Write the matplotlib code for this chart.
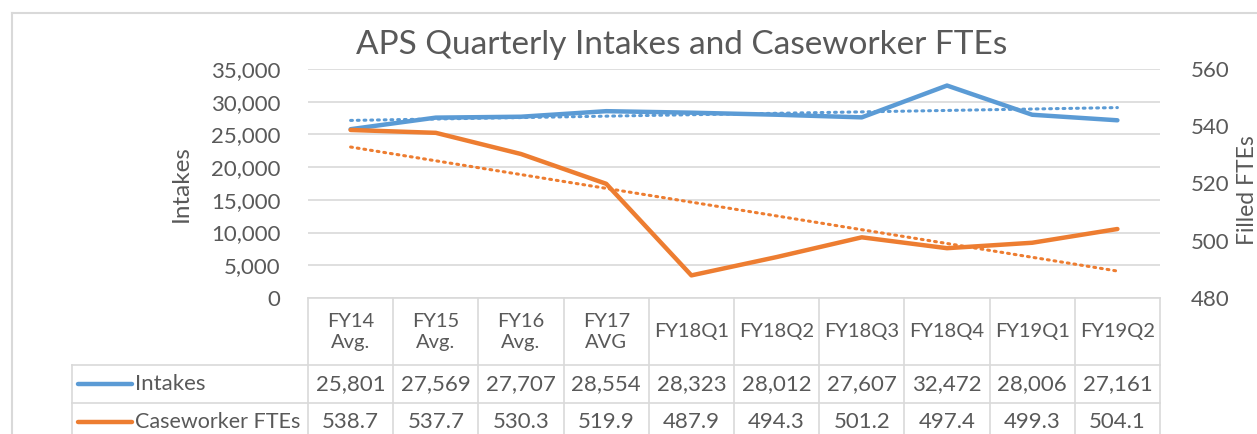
import numpy as np
import matplotlib.pyplot as plt
from matplotlib.lines import Line2D

plt.rcParams['font.family'] = ['Lato', 'DejaVu Sans']

# data
categories = ['FY14\nAvg.', 'FY15\nAvg.', 'FY16\nAvg.', 'FY17\nAVG', 'FY18Q1',
              'FY18Q2', 'FY18Q3', 'FY18Q4', 'FY19Q1', 'FY19Q2']
intakes = [25801, 27569, 27707, 28554, 28323, 28012, 27607, 32472, 28006, 27161]
ftes = [538.7, 537.7, 530.3, 519.9, 487.9, 494.3, 501.2, 497.4, 499.3, 504.1]
left_ticks = [0, 5000, 10000, 15000, 20000, 25000, 30000, 35000]
right_ticks = [480, 500, 520, 540, 560]

blue = '#5B9BD5'
orange = '#ED7D31'
txt = '#595959'
grid = '#D9D9D9'
fs = 16

W, H = 1257, 434
fig = plt.figure(figsize=(W / 100, H / 100), dpi=100)

# plot area in pixels
L, R, T, B = 308, 1160, 69, 298
ax = fig.add_axes([L / W, (H - B) / H, (R - L) / W, (B - T) / H])
ax2 = ax.twinx()

x = np.arange(len(categories))
ax.plot(x, intakes, color=blue, lw=3.2, solid_capstyle='round', zorder=3)
ax2.plot(x, ftes, color=orange, lw=3.2, solid_capstyle='round', zorder=3)

# linear trendlines like excel
p1 = np.polyfit(x, intakes, 1)
p2 = np.polyfit(x, ftes, 1)
ax.plot(x, np.polyval(p1, x), color=blue, lw=2.2, ls=(0, (0.6, 1.6)),
        dash_capstyle='round', zorder=2)
ax2.plot(x, np.polyval(p2, x), color=orange, lw=2.2, ls=(0, (0.6, 1.6)),
         dash_capstyle='round', zorder=2)

ax.set_xlim(-0.5, len(categories) - 0.5)
ax.set_ylim(0, 35000)
ax2.set_ylim(480, 560)
ax.set_yticks(left_ticks)
ax.set_yticklabels([f'{v:,}' for v in left_ticks])
ax2.set_yticks(right_ticks)
ax.set_xticks([])
for a in (ax, ax2):
    for s in a.spines.values():
        s.set_visible(False)
    a.tick_params(length=0, labelsize=fs, labelcolor=txt)
ax.tick_params(axis='y', pad=20)
ax2.tick_params(axis='y', pad=22)
ax.grid(axis='y', color=grid, lw=1.2)
ax.set_axisbelow(True)

ax.set_ylabel('Intakes', fontsize=17.5, color=txt, labelpad=14)
ax2.set_ylabel('Filled FTEs', fontsize=16.5, color=txt, rotation=90,
               va='center')
ax2.yaxis.set_label_coords((1248 - L) / (R - L), (B - 190) / (B - T))

fig.text(682 / W, 1 - 45 / H, 'APS Quarterly Intakes and Caseworker FTEs',
         ha='center', va='center', fontsize=24, color=txt)

# data table below the plot, y in pixels down from plot bottom
tab = fig.add_axes([L / W, 0, (R - L) / W, (H - B) / H], sharex=ax)
tab.set_ylim(H - B, 0)
tab.axis('off')
colw = (R - L) / len(categories)
leg_left = -0.5 - (L - 72) / colw
right = len(categories) - 0.5
edges = np.arange(len(categories) + 1) - 0.5
kw = dict(color=grid, lw=1.2, clip_on=False)
tab.plot([-0.5, right], [0, 0], **kw)
for yy in (67, 105):
    tab.plot([leg_left, right], [yy, yy], **kw)
for e in edges:
    tab.plot([e, e], [0, H - B], **kw)
tab.plot([leg_left, leg_left], [67, H - B], **kw)

for i, c in enumerate(categories):
    tab.text(i, 34, c, ha='center', va='center', fontsize=14.5, color=txt,
             linespacing=1.35)
    tab.text(i, 86, f'{intakes[i]:,}', ha='center', va='center', fontsize=fs,
             color=txt)
    tab.text(i, 124, f'{ftes[i]:.1f}', ha='center', va='center', fontsize=fs,
             color=txt)

kx0 = leg_left + 6 / colw
kx1 = leg_left + 60 / colw
tab.plot([kx0, kx1], [86, 86], color=blue, lw=3.2, solid_capstyle='round', clip_on=False)
tab.plot([kx0, kx1], [124, 124], color=orange, lw=3.2, solid_capstyle='round', clip_on=False)
tab.text(kx1 + 3 / colw, 86, 'Intakes', ha='left', va='center', fontsize=fs, color=txt)
tab.text(kx1 + 3 / colw, 124, 'Caseworker FTEs', ha='left', va='center', fontsize=15.5, color=txt)

# chart border
fig.add_artist(Line2D([12 / W, 12 / W], [0, 1 - 13 / H], color=grid, lw=1.5))
fig.add_artist(Line2D([12 / W, 1], [1 - 13 / H, 1 - 13 / H], color=grid, lw=1.5))

fig.savefig('out.png', dpi=100)
